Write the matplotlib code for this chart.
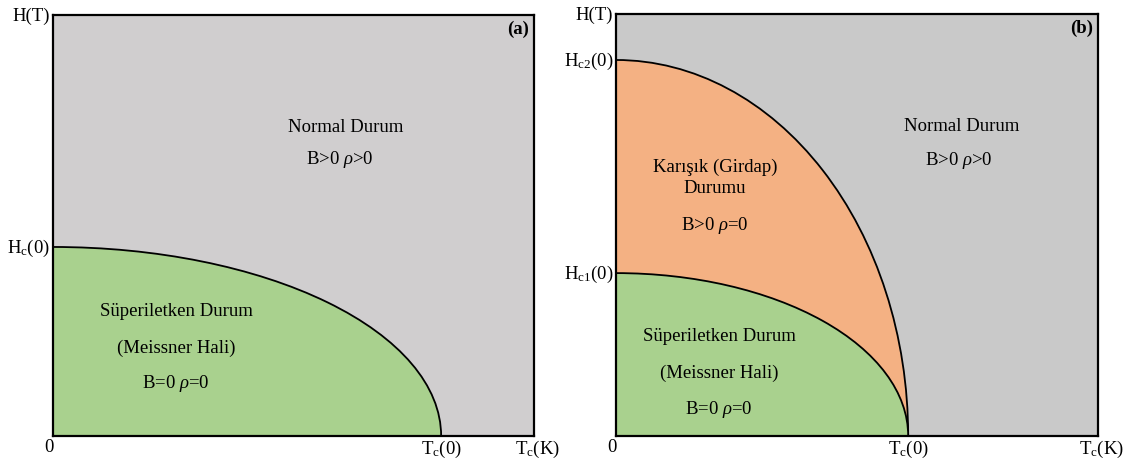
import matplotlib

matplotlib.use("Agg")
import matplotlib.pyplot as plt
from matplotlib.patches import Ellipse

plt.rcParams["font.family"] = ["Liberation Serif", "DejaVu Serif"]
plt.rcParams["mathtext.fontset"] = "custom"
plt.rcParams["mathtext.rm"] = "Liberation Serif"
plt.rcParams["mathtext.it"] = "Liberation Serif:italic"
plt.rcParams["mathtext.bf"] = "Liberation Serif:bold"

# critical points, in units of the axis range (T axis and H axis both 0..1)
tc_a = 0.807
hc_a = 0.449

tc_b = 0.606
hc1_b = 0.386
hc2_b = 0.891

GRAY_A = "#D0CECF"
GRAY_B = "#C9C9C9"
GREEN = "#A9D18E"
ORANGE = "#F4B183"
FS = 13.5


def quarter_region(ax, tc, hc, color):
    # phase boundary H(T) drawn as a quarter ellipse from (0, Hc) down to (Tc, 0)
    ax.add_patch(Ellipse((0, 0), 2 * tc, 2 * hc, facecolor=color,
                         edgecolor="black", linewidth=1.3, zorder=2))


def setup_axes(ax, bg):
    ax.set_xlim(0, 1)
    ax.set_ylim(0, 1)
    ax.set_facecolor(bg)
    ax.set_xticks([])
    ax.set_yticks([])
    for s in ax.spines.values():
        s.set_linewidth(1.6)
        s.set_zorder(5)


def side_labels(ax, tc, h_labels):
    ax.text(-0.006, 1.0, "H(T)", ha="right", va="center", fontsize=FS, clip_on=False)
    for val, lab in h_labels:
        ax.text(-0.006, val, lab, ha="right", va="center", fontsize=FS, clip_on=False)
    ax.text(-0.008, -0.026, "0", ha="center", va="center", fontsize=FS, clip_on=False)
    ax.text(tc, -0.03, r"T$_\mathrm{c}$(0)", ha="center", va="center", fontsize=FS, clip_on=False)
    ax.text(1.007, -0.03, r"T$_\mathrm{c}$(K)", ha="center", va="center", fontsize=FS, clip_on=False)


fig = plt.figure(figsize=(11.31, 4.64), dpi=100)
ax_a = fig.add_axes([0.0469, 0.0582, 0.4252, 0.9073])
ax_b = fig.add_axes([0.5447, 0.0582, 0.4262, 0.9095])

# (a) type I
setup_axes(ax_a, GRAY_A)
quarter_region(ax_a, tc_a, hc_a, GREEN)
side_labels(ax_a, tc_a, [(hc_a, r"H$_\mathrm{c}$(0)")])
ax_a.text(0.609, 0.736, "Normal Durum", ha="center", va="center", fontsize=FS)
ax_a.text(0.597, 0.658, r"B>0 $\rho$>0", ha="center", va="center", fontsize=FS)
ax_a.text(0.256, 0.299, "Süperiletken Durum", ha="center", va="center", fontsize=FS, zorder=3)
ax_a.text(0.256, 0.211, "(Meissner Hali)", ha="center", va="center", fontsize=FS, zorder=3)
ax_a.text(0.256, 0.126, r"B=0 $\rho$=0", ha="center", va="center", fontsize=FS, zorder=3)
ax_a.text(0.99, 0.968, "(a)", ha="right", va="center", fontsize=FS, fontweight="bold")

# (b) type II
setup_axes(ax_b, GRAY_B)
quarter_region(ax_b, tc_b, hc2_b, ORANGE)
quarter_region(ax_b, tc_b, hc1_b, GREEN)
side_labels(ax_b, tc_b, [(hc2_b, r"H$_\mathrm{c2}$(0)"), (hc1_b, r"H$_\mathrm{c1}$(0)")])
ax_b.text(0.718, 0.736, "Normal Durum", ha="center", va="center", fontsize=FS)
ax_b.text(0.710, 0.656, r"B>0 $\rho$>0", ha="center", va="center", fontsize=FS)
ax_b.text(0.205, 0.640, "Karışık (Girdap)", ha="center", va="center", fontsize=FS, zorder=3)
ax_b.text(0.205, 0.590, "Durumu", ha="center", va="center", fontsize=FS, zorder=3)
ax_b.text(0.205, 0.500, r"B>0 $\rho$=0", ha="center", va="center", fontsize=FS, zorder=3)
ax_b.text(0.214, 0.237, "Süperiletken Durum", ha="center", va="center", fontsize=FS, zorder=3)
ax_b.text(0.214, 0.152, "(Meissner Hali)", ha="center", va="center", fontsize=FS, zorder=3)
ax_b.text(0.212, 0.064, r"B=0 $\rho$=0", ha="center", va="center", fontsize=FS, zorder=3)
ax_b.text(0.99, 0.968, "(b)", ha="right", va="center", fontsize=FS, fontweight="bold")

fig.savefig("out.png", dpi=100)
plt.close(fig)
